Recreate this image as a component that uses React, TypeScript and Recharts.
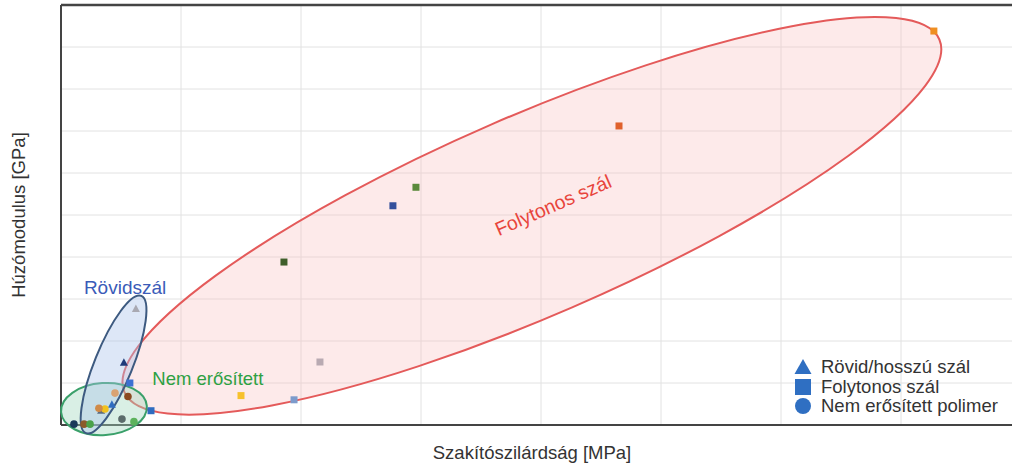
import React from 'react';
import {
  ScatterChart,
  Scatter,
  XAxis,
  YAxis,
  CartesianGrid,
  ReferenceLine,
  ReferenceDot,
  Legend,
} from 'recharts';

// Axis ticks (no tick labels shown in the reference, only grid)
const xTicks = [0, 500, 1000, 1500, 2000, 2500, 3000, 3500, 4000];
const yTicks = [0, 50, 100, 150, 200, 250, 300, 350, 400, 450, 500];

// Folytonos szál (continuous fibre) – squares
const squareX = [3637, 2325, 1479, 1383, 929, 1079, 750, 971, 375, 287];
const squareY = [469, 356, 283, 261, 194, 75, 35, 30, 17, 50];
const squareColors = ['#ef8f22', '#e0612c', '#5b8a3c', '#34509c', '#3f5e2a', '#b9aab2', '#f7c12c', '#7d9bcc', '#2f6cc0', '#3d70d2'];

// Rövid/hosszú szál (short/long fibre) – triangles
const triX = [312, 262, 212, 167];
const triY = [138, 74, 24, 17];
const triColors = ['#a9a9b2', '#1f3a7a', '#2f6cc0', '#5b6b80'];

// Nem erősített polimer (unreinforced) – circles
const circX = [225, 279, 183, 158, 254, 304, 54, 96, 121];
const circY = [38, 34, 19, 20, 7, 4, 1, 1, 1];
const circColors = ['#d9a272', '#8b4a20', '#f1c21f', '#d08a48', '#5b6b6b', '#5cb25c', '#1b3a5a', '#8b5a2a', '#4aa24a'];

// Region ellipses (centre in data units, radii/angle in drawing units)
const ellipseNames = ['Folytonos', 'Nem', 'Rovid'];
const ellipseCx = [1962, 179, 219];
const ellipseCy = [249, 19, 72];
const ellipseRx = [444, 43, 74];
const ellipseRy = [100, 26, 19];
const ellipseAngle = [-23.4, -4, -68];
const ellipseFill = ['rgba(250, 190, 190, 0.33)', 'rgba(160, 215, 190, 0.40)', 'rgba(170, 195, 235, 0.40)'];
const ellipseStroke = ['#e45a5a', '#3aa06a', '#3d5a80'];

// Region labels
const regionLabels = ['Rövidszál', 'Nem erősített', 'Folytonos szál'];
const regionLabelX = [267, 612, 2050];
const regionLabelY = [164, 55, 262];
const regionLabelColors = ['#3a5bb8', '#2ea043', '#e8453c'];
const regionLabelAngles = [0, 0, -23.5];
const regionLabelSizes = [19, 18.5, 19.5];

const legendNames = ['Rövid/hosszú szál', 'Folytonos szál', 'Nem erősített polimer'];
const legendColor = '#2f6fc2';

const squares = squareX.map((x, i) => ({ x, y: squareY[i], color: squareColors[i] }));
const triangles = triX.map((x, i) => ({ x, y: triY[i], color: triColors[i] }));
const circles = circX.map((x, i) => ({ x, y: circY[i], color: circColors[i] }));

const SquareShape = (props: any) => {
  const { cx, cy, payload } = props;
  return <rect x={cx - 3.5} y={cy - 3.5} width={7} height={7} fill={payload.color} />;
};
const TriangleShape = (props: any) => {
  const { cx, cy, payload } = props;
  return <polygon points={`${cx},${cy - 4.5} ${cx + 4},${cy + 3} ${cx - 4},${cy + 3}`} fill={payload.color} />;
};
const CircleShape = (props: any) => {
  const { cx, cy, payload } = props;
  return <circle cx={cx} cy={cy} r={3.8} fill={payload.color} />;
};

const NoTick = () => <g />;

const makeEllipseShape = (i: number) => (props: any) => {
  const { cx, cy } = props;
  return (
    <ellipse
      cx={cx}
      cy={cy}
      rx={ellipseRx[i]}
      ry={ellipseRy[i]}
      transform={`rotate(${ellipseAngle[i]} ${cx} ${cy})`}
      fill={ellipseFill[i]}
      stroke={ellipseStroke[i]}
      strokeWidth={2}
    />
  );
};

const makeTextShape = (i: number) => (props: any) => {
  const { cx, cy } = props;
  return (
    <text
      x={cx}
      y={cy}
      textAnchor="middle"
      dominantBaseline="central"
      fontSize={regionLabelSizes[i]}
      fill={regionLabelColors[i]}
      transform={`rotate(${regionLabelAngles[i]} ${cx} ${cy})`}
    >
      {regionLabels[i]}
    </text>
  );
};

const LegendContent = () => (
  <div style={{ fontFamily: 'Arial, "Liberation Sans", sans-serif', fontSize: 18.5, color: '#333', lineHeight: '19.5px' }}>
    {legendNames.map((n, i) => (
      <div key={n} style={{ display: 'flex', alignItems: 'center', whiteSpace: 'nowrap' }}>
        <svg width={20} height={19.5} style={{ marginRight: 8 }}>
          {i === 0 && <polygon points="10,2 18.5,17 1.5,17" fill={legendColor} />}
          {i === 1 && <rect x={2} y={2} width={16} height={16} fill={legendColor} />}
          {i === 2 && <circle cx={10} cy={10} r={8} fill={legendColor} />}
        </svg>
        <span>{n}</span>
      </div>
    ))}
  </div>
);

export default function App() {
  return (
    <div
      style={{
        position: 'absolute',
        left: 0,
        top: 0,
        width: 1012,
        height: 470,
        overflow: 'hidden',
        background: '#fff',
        fontFamily: 'Arial, "Liberation Sans", sans-serif',
      }}
    >
      <ScatterChart width={1030} height={470} margin={{ top: 5, right: 9, bottom: 44, left: 60 }}>
        <CartesianGrid stroke="#e2e2e2" strokeWidth={1} />
        <XAxis
          type="number"
          dataKey="x"
          domain={[0, 4000]}
          ticks={xTicks}
          tick={NoTick}
          tickLine={false}
          height={1}
          axisLine={{ stroke: '#444', strokeWidth: 2 }}
          label={{ value: 'Szakítószilárdság [MPa]', position: 'bottom', offset: 20, dx: -9, fill: '#333', fontSize: 18.5 }}
        />
        <YAxis
          type="number"
          dataKey="y"
          domain={[0, 500]}
          ticks={yTicks}
          tick={NoTick}
          tickLine={false}
          width={1}
          axisLine={{ stroke: '#444', strokeWidth: 2 }}
          label={{ value: 'Húzómodulus [GPa]', angle: -90, position: 'left', offset: 42, textAnchor: 'middle', fill: '#333', fontSize: 18.5 }}
        />
        <ReferenceLine y={500} stroke="#444" strokeWidth={2.5} />
        {ellipseNames.map((n, i) => (
          <ReferenceDot key={n} x={ellipseCx[i]} y={ellipseCy[i]} r={0} shape={makeEllipseShape(i)} />
        ))}
        {regionLabels.map((n, i) => (
          <ReferenceDot key={n} x={regionLabelX[i]} y={regionLabelY[i]} r={0} shape={makeTextShape(i)} />
        ))}
        <Scatter name="Rövid/hosszú szál" data={triangles} shape={TriangleShape} isAnimationActive={false} />
        <Scatter name="Folytonos szál" data={squares} shape={SquareShape} isAnimationActive={false} />
        <Scatter name="Nem erősített polimer" data={circles} shape={CircleShape} isAnimationActive={false} />
        <Legend
          layout="horizontal"
          verticalAlign="middle"
          align="center"
          content={LegendContent}
          wrapperStyle={{ left: 793, top: 357, width: 220, height: 60 }}
        />
      </ScatterChart>
    </div>
  );
}
